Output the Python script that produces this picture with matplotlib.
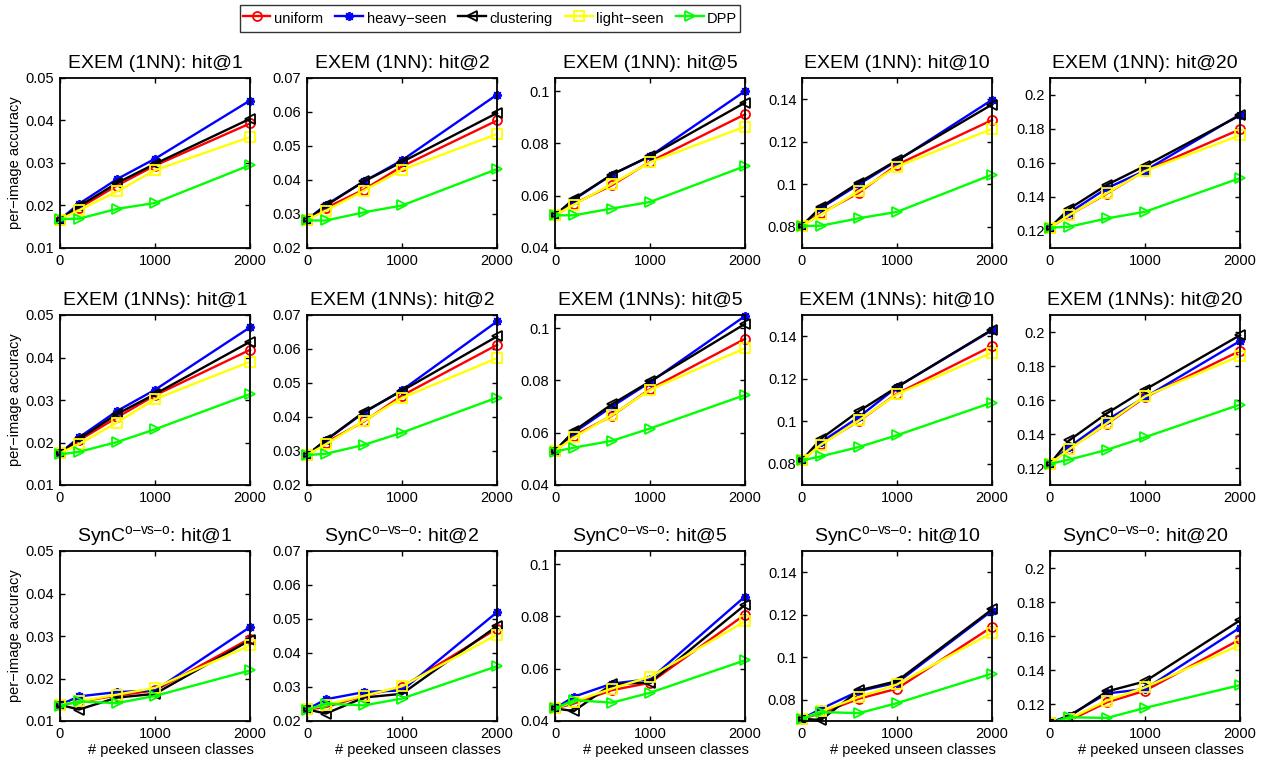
import numpy as np
import matplotlib
matplotlib.use("Agg")
import matplotlib.pyplot as plt
from matplotlib.ticker import FormatStrFormatter

plt.rcParams['font.family'] = ['Liberation Sans', 'DejaVu Sans']
plt.rcParams['mathtext.fontset'] = 'custom'
plt.rcParams['mathtext.rm'] = 'Liberation Sans'
plt.rcParams['mathtext.it'] = 'Liberation Sans:italic'

# number of peeked unseen classes
peeked = [0, 200, 600, 1000, 2000]

methods = ['uniform', 'heavy−seen', 'clustering', 'light−seen', 'DPP']
colors = ['#ff0000', '#0000ff', '#000000', '#ffff00', '#00ff00']
markers = ['o', (8, 2, 0), '<', 's', '>']

hits = [1, 2, 5, 10, 20]
row_names = ['EXEM (1NN)', 'EXEM (1NNs)', r'SynC$^{\mathrm{o–vs–o}}$']

# y limits / ticks per hit@k column
ylims = [(0.01, 0.05), (0.02, 0.07), (0.04, 0.105), (0.07, 0.15), (0.11, 0.21)]
yticks = [[0.01, 0.02, 0.03, 0.04, 0.05],
          [0.02, 0.03, 0.04, 0.05, 0.06, 0.07],
          [0.04, 0.06, 0.08, 0.1],
          [0.08, 0.1, 0.12, 0.14],
          [0.12, 0.14, 0.16, 0.18, 0.2]]

# EXEM (1NN): [uniform, heavy-seen, clustering, light-seen, DPP] for each hit@k
exem_1nn_h1 = [[0.0167, 0.0194, 0.0247, 0.0294, 0.0393],
               [0.0167, 0.0204, 0.0262, 0.0310, 0.0447],
               [0.0167, 0.0198, 0.0253, 0.0298, 0.0404],
               [0.0167, 0.0189, 0.0233, 0.0283, 0.0361],
               [0.0168, 0.0169, 0.0192, 0.0206, 0.0295]]
exem_1nn_h2 = [[0.0283, 0.0318, 0.0372, 0.0440, 0.0575],
               [0.0283, 0.0327, 0.0396, 0.0458, 0.0651],
               [0.0283, 0.0325, 0.0396, 0.0453, 0.0597],
               [0.0283, 0.0310, 0.0369, 0.0430, 0.0535],
               [0.0281, 0.0281, 0.0305, 0.0325, 0.0432]]
exem_1nn_h5 = [[0.0525, 0.0569, 0.0640, 0.0730, 0.0911],
               [0.0525, 0.0585, 0.0681, 0.0751, 0.1000],
               [0.0525, 0.0588, 0.0681, 0.0751, 0.0956],
               [0.0525, 0.0566, 0.0645, 0.0728, 0.0864],
               [0.0525, 0.0525, 0.0551, 0.0576, 0.0713]]
exem_1nn_h10 = [[0.0805, 0.0863, 0.0960, 0.1092, 0.1302],
                [0.0805, 0.0888, 0.1000, 0.1110, 0.1397],
                [0.0805, 0.0893, 0.1008, 0.1113, 0.1375],
                [0.0805, 0.0858, 0.0968, 0.1083, 0.1260],
                [0.0803, 0.0805, 0.0840, 0.0870, 0.1045]]
exem_1nn_h20 = [[0.1220, 0.1293, 0.1420, 0.1555, 0.1798],
                [0.1220, 0.1307, 0.1452, 0.1555, 0.1885],
                [0.1220, 0.1330, 0.1472, 0.1583, 0.1880],
                [0.1220, 0.1293, 0.1423, 0.1553, 0.1763],
                [0.1220, 0.1225, 0.1274, 0.1313, 0.1511]]

# EXEM (1NNs)
exem_1nns_h1 = [[0.0175, 0.0205, 0.0259, 0.0311, 0.0418],
                [0.0175, 0.0212, 0.0274, 0.0324, 0.0471],
                [0.0175, 0.0208, 0.0267, 0.0314, 0.0437],
                [0.0175, 0.0196, 0.0247, 0.0302, 0.0390],
                [0.0172, 0.0178, 0.0201, 0.0231, 0.0314]]
exem_1nns_h2 = [[0.0288, 0.0325, 0.0387, 0.0463, 0.0612],
                [0.0288, 0.0332, 0.0413, 0.0479, 0.0681],
                [0.0288, 0.0332, 0.0415, 0.0477, 0.0637],
                [0.0288, 0.0320, 0.0389, 0.0456, 0.0573],
                [0.0288, 0.0292, 0.0318, 0.0354, 0.0457]]
exem_1nns_h5 = [[0.0530, 0.0588, 0.0665, 0.0767, 0.0959],
                [0.0530, 0.0601, 0.0700, 0.0793, 0.1046],
                [0.0530, 0.0607, 0.0709, 0.0796, 0.1016],
                [0.0530, 0.0582, 0.0667, 0.0764, 0.0923],
                [0.0528, 0.0543, 0.0569, 0.0616, 0.0744]]
exem_1nns_h10 = [[0.0816, 0.0894, 0.1001, 0.1130, 0.1354],
                 [0.0816, 0.0902, 0.1020, 0.1161, 0.1428],
                 [0.0816, 0.0918, 0.1048, 0.1161, 0.1431],
                 [0.0816, 0.0890, 0.1004, 0.1127, 0.1323],
                 [0.0816, 0.0835, 0.0879, 0.0934, 0.1088]]
exem_1nns_h20 = [[0.1225, 0.1313, 0.1460, 0.1616, 0.1889],
                 [0.1225, 0.1323, 0.1483, 0.1616, 0.1947],
                 [0.1225, 0.1362, 0.1522, 0.1661, 0.1981],
                 [0.1225, 0.1309, 0.1463, 0.1621, 0.1860],
                 [0.1225, 0.1249, 0.1307, 0.1381, 0.1573]]

# SynC o-vs-o
sync_h1 = [[0.0138, 0.0145, 0.0160, 0.0172, 0.0294],
           [0.0138, 0.0158, 0.0168, 0.0172, 0.0321],
           [0.0138, 0.0127, 0.0155, 0.0164, 0.0290],
           [0.0138, 0.0146, 0.0162, 0.0178, 0.0278],
           [0.0136, 0.0146, 0.0142, 0.0159, 0.0219]]
sync_h2 = [[0.0234, 0.0241, 0.0274, 0.0300, 0.0472],
           [0.0234, 0.0264, 0.0285, 0.0290, 0.0520],
           [0.0234, 0.0222, 0.0269, 0.0280, 0.0479],
           [0.0234, 0.0248, 0.0274, 0.0302, 0.0454],
           [0.0233, 0.0251, 0.0246, 0.0266, 0.0361]]
sync_h5 = [[0.0448, 0.0467, 0.0518, 0.0546, 0.0807],
           [0.0448, 0.0493, 0.0543, 0.0560, 0.0876],
           [0.0448, 0.0438, 0.0541, 0.0547, 0.0844],
           [0.0448, 0.0474, 0.0524, 0.0569, 0.0781],
           [0.0448, 0.0480, 0.0470, 0.0508, 0.0632]]
sync_h10 = [[0.0710, 0.0737, 0.0805, 0.0852, 0.1143],
            [0.0710, 0.0757, 0.0841, 0.0880, 0.1219],
            [0.0710, 0.0705, 0.0844, 0.0888, 0.1225],
            [0.0710, 0.0745, 0.0813, 0.0872, 0.1115],
            [0.0710, 0.0742, 0.0737, 0.0784, 0.0923]]
sync_h20 = [[0.1090, 0.1102, 0.1210, 0.1278, 0.1580],
            [0.1090, 0.1132, 0.1262, 0.1288, 0.1649],
            [0.1090, 0.1126, 0.1274, 0.1333, 0.1692],
            [0.1090, 0.1112, 0.1220, 0.1298, 0.1547],
            [0.1090, 0.1122, 0.1118, 0.1177, 0.1311]]

results = [[exem_1nn_h1, exem_1nn_h2, exem_1nn_h5, exem_1nn_h10, exem_1nn_h20],
           [exem_1nns_h1, exem_1nns_h2, exem_1nns_h5, exem_1nns_h10, exem_1nns_h20],
           [sync_h1, sync_h2, sync_h5, sync_h10, sync_h20]]

W, H = 1267, 763
fig = plt.figure(figsize=(W / 100, H / 100), dpi=100)

ax_left = [60, 307, 555, 802, 1050]
ax_top = [78, 315, 551]
ax_w, ax_h = 190, 170

handles = []
for r in range(3):
    for c in range(5):
        ax = fig.add_axes([ax_left[c] / W, 1 - (ax_top[r] + ax_h) / H, ax_w / W, ax_h / H])
        lo, hi = ylims[c]
        for i in range(5):
            vals = results[r][c][i]
            clip = min(vals) < lo
            ln, = ax.plot(peeked, vals, color=colors[i], marker=markers[i],
                          markerfacecolor='none', markersize=6.5, markeredgewidth=1.3,
                          linewidth=1.7, clip_on=clip, label=methods[i])
            if r == 0 and c == 0:
                handles.append(ln)
        ax.set_xlim(0, 2000)
        ax.set_ylim(lo, hi)
        ax.set_xticks([0, 1000, 2000])
        ax.set_yticks(yticks[c])
        ax.yaxis.set_major_formatter(FormatStrFormatter('%g'))
        ax.tick_params(direction='in', top=True, right=True, length=3.5,
                       width=1, labelsize=10.5, pad=4)
        for s in ax.spines.values():
            s.set_linewidth(1.3)
        ax.set_title(f'{row_names[r]}: hit@{hits[c]}', fontsize=14, pad=7)
        if c == 0:
            ax.set_ylabel('per−image accuracy', fontsize=10.5)
            ax.yaxis.set_label_coords(-0.2, 0.5)
        if r == 2:
            ax.set_xlabel('# peeked unseen classes', fontsize=10.5)
            ax.xaxis.set_label_coords(0.585, -0.13)

leg = fig.legend(handles, methods, loc='center', bbox_to_anchor=(490 / W, 1 - 18.5 / H),
                 ncol=5, fontsize=10.5, frameon=True, fancybox=False,
                 handlelength=1.9, handleheight=1.8, handletextpad=0.25,
                 columnspacing=0.83, borderpad=0.2, edgecolor='black')
leg.get_frame().set_linewidth(1.0)

fig.savefig('out.png', dpi=100)
